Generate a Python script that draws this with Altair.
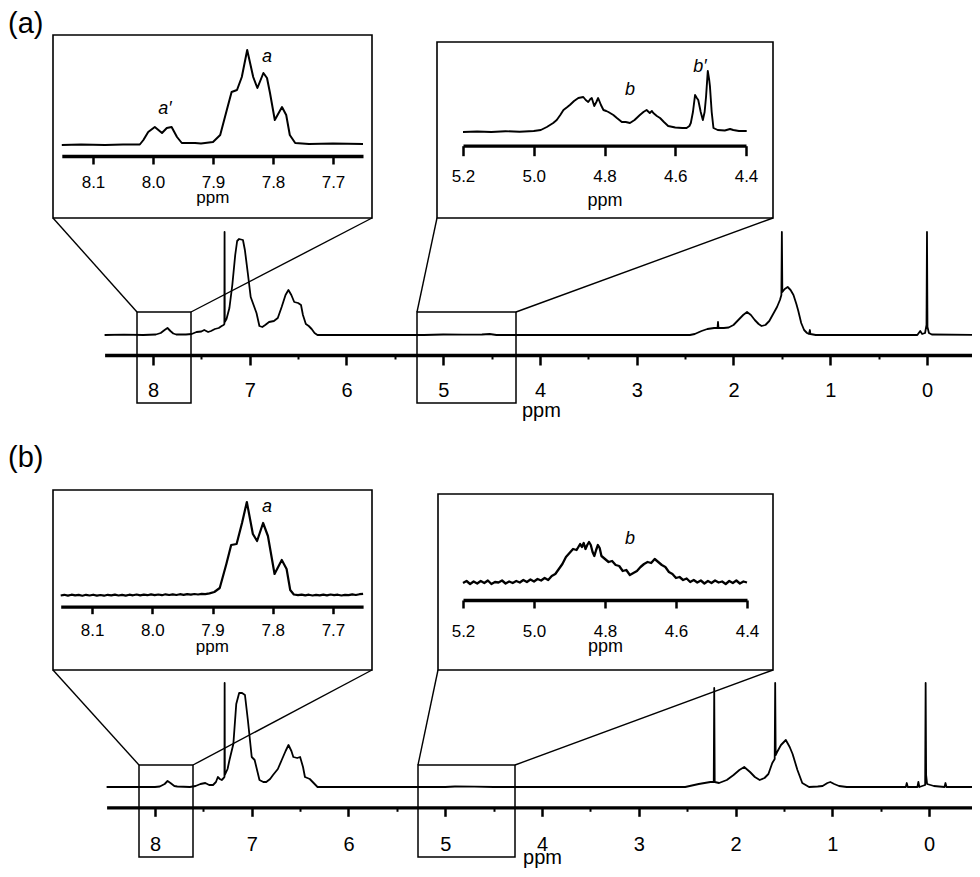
import altair as alt
import pandas as pd

OFF = 8          # page margin (page px -> view px)
W, H = 964, 861
FONT = "Liberation Sans"

# ---------------- data (ppm, intensity) ----------------
A_MAIN = [(8.50,0),(8.30,0.3),(8.10,0),(7.97,0.5),(7.92,2),(7.88,5),(7.85,7),(7.82,4),(7.79,1.5),
          (7.76,0.5),(7.66,0.5),(7.60,1),(7.55,3),(7.50,3.5),(7.47,5),(7.43,3),(7.40,4),(7.36,6),
          (7.32,7),(7.29,9),(7.27,10),(7.262,11),(7.260,103),(7.258,13),(7.24,16),(7.21,27),(7.18,50),
          (7.15,80),(7.13,94),(7.11,96),(7.07,95),(7.05,85),(7.02,62),(6.99,38),(6.96,30),(6.93,22),
          (6.90,9),(6.87,8),(6.84,10),(6.80,13),(6.75,14),(6.71,17),(6.67,28),(6.63,40),(6.60,45),
          (6.57,40),(6.54,33),(6.50,32),(6.47,30),(6.45,20),(6.42,11),(6.39,9),(6.36,6),(6.33,2),
          (6.30,0),(5.60,0),(5.20,0),(5.00,0.5),(4.80,0.3),(4.60,0.5),(4.52,1),(4.45,0),(3.00,0),
          (2.45,0),(2.40,1),(2.33,4),(2.27,6),(2.20,7),(2.165,7),(2.16,13),(2.155,7),(2.10,7),
          (2.05,7.5),(2.00,10),(1.95,15),(1.90,20),(1.86,23),(1.82,20),(1.78,15),(1.74,11),(1.71,9),
          (1.67,10),(1.63,14),(1.59,21),(1.55,28),(1.52,35),(1.505,40),(1.50,103),(1.495,43),
          (1.47,46),(1.44,48),(1.41,45),(1.38,40),(1.35,31),(1.33,24),(1.30,12),(1.27,5),(1.24,2),
          (1.22,1),(1.21,5),(1.205,1),(1.15,0),(0.50,0),(0.10,0),(0.07,4),(0.05,1),(0.02,2),
          (0.005,10),(0.0,103),(-0.005,8),(-0.02,2),(-0.05,0.5),(-0.52,0)]

B_MAIN = [(8.50,0),(8.00,0),(7.95,0.5),(7.90,3),(7.87,6),(7.84,4),(7.80,1),(7.77,0.5),(7.64,0),
          (7.58,1),(7.53,3),(7.48,4),(7.44,2),(7.40,2),(7.37,5),(7.35,10),(7.33,8),(7.31,7),
          (7.29,9),(7.282,10),(7.28,104),(7.278,12),(7.25,18),(7.23,27),(7.19,43),(7.16,83),
          (7.13,94),(7.10,94),(7.07,92),(7.04,67),(7.00,30),(6.97,27),(6.94,15),(6.92,7),(6.88,5),
          (6.85,5),(6.81,8),(6.78,12),(6.73,18),(6.69,27),(6.65,36),(6.62,42),(6.59,36),(6.57,30),
          (6.53,29),(6.50,30),(6.47,20),(6.45,10),(6.40,8),(6.36,4),(6.32,0),(5.00,0),(4.90,0.5),
          (4.70,0.3),(4.50,0),(2.52,0),(2.38,3),(2.26,5),(2.225,5),(2.22,99),(2.215,5),(2.17,4),
          (2.09,7),(2.02,12),(1.96,17),(1.91,20),(1.85,15),(1.80,10),(1.75,7),(1.70,9),(1.66,13),
          (1.62,24),(1.595,28),(1.59,104),(1.585,32),(1.57,35),(1.53,42),(1.48,47),(1.44,40),
          (1.41,33),(1.36,17),(1.31,4),(1.24,0),(1.15,0.5),(1.10,1),(1.05,4),(1.02,5),(0.98,3),
          (0.93,1),(0.85,0),(0.24,0),(0.23,4),(0.22,0),(0.12,0),(0.11,5),(0.10,0),(0.04,2),
          (0.035,104),(0.03,12),(0.02,3),(-0.05,1),(-0.16,0),(-0.17,4),(-0.18,0),(-0.45,0)]

A_INSET1 = [(8.152,0),(8.12,0.5),(8.08,0),(8.05,0.5),(8.022,0.5),(8.016,5),(8.008,13),(7.997,18),
            (7.991,15),(7.985,12),(7.977,17),(7.969,18),(7.960,8),(7.952,2),(7.930,2),(7.920,1.5),
            (7.900,3),(7.888,10),(7.877,35),(7.869,53),(7.860,55),(7.852,68),(7.843,95),(7.833,68),
            (7.826,57),(7.816,72),(7.810,67),(7.805,52),(7.797,25),(7.785,38),(7.778,30),(7.772,10),
            (7.763,2),(7.740,1),(7.700,1.5),(7.650,1)]

B_INSET1 = [(8.152,0.5),(8.146,1.2),(8.140,0.4),(8.134,1.3),(8.128,0.6),(8.122,1.1),(8.116,0.3),
            (8.110,1.2),(8.104,0.5),(8.098,1.3),(8.092,0.4),(8.086,1.0),(8.080,0.3),(8.074,1.2),
            (8.068,0.6),(8.062,1.4),(8.056,0.5),(8.050,1.1),(8.044,0.4),(8.038,1.3),(8.032,0.7),
            (8.026,1.5),(8.020,0.6),(8.014,1.3),(8.008,0.8),(8.002,1.6),(7.996,0.9),(7.990,1.5),
            (7.984,0.8),(7.978,1.7),(7.972,1.0),(7.966,1.6),(7.960,1.0),(7.954,1.8),(7.948,1.1),
            (7.942,1.9),(7.936,1.3),(7.930,2.0),(7.924,1.5),(7.918,2.2),(7.912,1.8),(7.905,2.6),
            (7.897,4),(7.888,8),(7.877,32),(7.869,51),(7.860,52),(7.851,73),(7.843,94),(7.833,62),
            (7.826,55),(7.816,73),(7.808,60),(7.797,22),(7.785,36),(7.777,27),(7.771,6),(7.765,1.5),
            (7.758,0.8),(7.752,1.4),(7.746,0.6),(7.740,1.3),(7.734,0.5),(7.728,1.2),(7.722,0.7),
            (7.716,1.4),(7.710,0.6),(7.704,1.5),(7.698,0.8),(7.692,1.3),(7.686,0.5),(7.680,1.2),
            (7.674,0.9),(7.668,1.6),(7.662,1.0),(7.656,1.8),(7.650,2.2)]

A_INSET2 = [(5.20,0),(5.16,0.5),(5.12,0),(5.08,0.8),(5.04,0.3),(5.00,1),(4.98,2),(4.963,5),
            (4.945,9),(4.935,12),(4.925,17),(4.916,22),(4.905,25),(4.898,27),(4.886,31),(4.874,34),
            (4.860,35),(4.853,32),(4.846,30),(4.840,33),(4.836,34),(4.829,26),(4.823,30),(4.818,34),
            (4.810,27),(4.803,22),(4.795,21),(4.789,20),(4.775,17),(4.765,14),(4.751,10),(4.740,10),
            (4.728,9),(4.715,12),(4.700,17),(4.690,20),(4.681,22),(4.672,19),(4.666,21),(4.662,19),
            (4.652,16),(4.643,14),(4.632,10),(4.620,6),(4.600,4.5),(4.580,4),(4.568,4),(4.560,6),
            (4.556,9),(4.550,20),(4.544,37),(4.539,34),(4.535,32),(4.528,20),(4.522,12),(4.517,20),
            (4.513,35),(4.508,61),(4.504,52),(4.502,46),(4.497,20),(4.492,4),(4.480,2),(4.460,1.5),
            (4.445,3),(4.436,2),(4.420,1),(4.398,1)]

B_INSET2 = [(5.20,0),(5.19,2),(5.18,-1),(5.17,1.5),(5.16,-0.5),(5.15,2),(5.14,0),(5.13,2.5),
            (5.12,-1),(5.11,1),(5.10,0.5),(5.09,2.5),(5.08,-0.5),(5.07,1.5),(5.06,0),(5.05,2),
            (5.04,0.5),(5.03,3),(5.02,1),(5.01,3.5),(5.00,1.5),(4.99,4),(4.98,2.5),(4.97,5),(4.96,3),
            (4.95,7),(4.94,9),(4.93,14),(4.92,19),(4.91,26),(4.90,30),(4.89,34),(4.88,33),(4.87,39),
            (4.865,36),(4.86,40),(4.855,34),(4.85,38),(4.845,41),(4.84,38),(4.835,31),(4.83,27),
            (4.825,33),(4.82,38),(4.815,35),(4.81,27),(4.80,24),(4.79,21),(4.78,22),(4.77,18),
            (4.76,17),(4.75,12),(4.74,13),(4.73,8),(4.72,10),(4.71,12),(4.70,16),(4.69,19),(4.68,21),
            (4.67,20),(4.66,24),(4.65,21),(4.64,18),(4.63,16),(4.62,11),(4.61,9),(4.60,5),(4.59,6),
            (4.58,3),(4.57,4.5),(4.56,1),(4.55,3),(4.54,0.5),(4.53,2.5),(4.52,-0.5),(4.51,2),
            (4.50,0),(4.49,2.5),(4.48,0.5),(4.47,1.5),(4.46,-1),(4.45,2),(4.44,0),(4.43,2.5),
            (4.42,-0.5),(4.41,1.5),(4.40,0.5)]

MAIN_TICKS = [8, 7, 6, 5, 4, 3, 2, 1, 0]
MINOR_TICKS = [7.5, 6.5, 5.5, 4.5, 3.5, 2.5, 1.5, 0.5]
INSET1_TICKS = [8.1, 8.0, 7.9, 7.8, 7.7]
INSET2_TICKS = [5.2, 5.0, 4.8, 4.6, 4.4]
INSET1_DOM = (8.152, 7.65)
INSET2_DOM = (5.2, 4.4)

# ---------------- layout (page pixels) ----------------
PANELS = [
    dict(label="(a)", label_y=33,
         main=A_MAIN, main_dom=(8.5, -0.52), main_rng=(104.6, 977.3), main_base=335, main_axis=355,
         main_tick=10, main_lpad=15.8, main_ty=61.5,
         i1=A_INSET1, i1_rng=(61.8, 363.0), i1_base=145, i1_axis=156, i1_tick=8, i1_lpad=10.4, i1_ty=46.5,
         i2=A_INSET2, i2_rng=(463, 746), i2_base=132, i2_axis=145.7, i2_tick=10, i2_lpad=12.3, i2_ty=59.5,
         i1_sw=2.0, i2_sw=1.9,
         frames=[(53, 35, 372, 218), (437, 42, 773, 218)],
         boxes=[(137, 312, 191, 403), (417, 312, 516, 403)],
         links=[(53, 218, 137, 312), (372, 218, 191, 312), (437, 218, 417, 312), (773, 218, 516, 312)],
         tags=[("a", 267, 61.7), ("a\u2032", 165, 114.4), ("b", 630, 95), ("b\u2032", 700, 72)]),
    dict(label="(b)", label_y=467,
         main=B_MAIN, main_dom=(8.5, -0.5), main_rng=(106.6, 977.4), main_base=787, main_axis=807.3,
         main_tick=9, main_lpad=18, main_ty=56.5,
         i1=B_INSET1, i1_rng=(60.7, 363.1), i1_base=596, i1_axis=606.7, i1_tick=7, i1_lpad=9, i1_ty=44.5,
         i2=B_INSET2, i2_rng=(463, 747), i2_base=583, i2_axis=600, i2_tick=8, i2_lpad=15.7, i2_ty=51,
         i1_sw=2.2, i2_sw=2.3,
         frames=[(53, 490, 372, 670), (438, 494, 773, 670)],
         boxes=[(139, 765, 193, 857), (418, 765, 515, 857)],
         links=[(53, 670, 139, 765), (372, 670, 193, 765), (438, 670, 418, 765), (773, 670, 515, 765)],
         tags=[("a", 267, 511.7), ("b", 630, 544)]),
]


def spectrum(pts, xdom, xrng, base, axis_y, ticks, fmt, tsize, lpad, lfs, ty, tfs, sw):
    df = pd.DataFrame(pts, columns=["ppm", "h"])
    df["i"] = range(len(df))
    return alt.Chart(df).mark_line(color="black", strokeWidth=sw, strokeJoin="round").encode(
        x=alt.X("ppm:Q",
                scale=alt.Scale(domain=list(xdom), range=[xrng[0] - OFF, xrng[1] - OFF],
                                nice=False, zero=False),
                axis=alt.Axis(orient="bottom", offset=(axis_y - OFF) - H, values=ticks, format=fmt,
                              tickSize=tsize, tickWidth=2.5, domainWidth=3.3, labelPadding=lpad,
                              labelFontSize=lfs, labelFlush=False, labelOverlap=False,
                              title="ppm", titleFontSize=tfs, titleFontWeight="normal",
                              titleY=ty, titleBaseline="alphabetic", grid=False)),
        y=alt.Y("h:Q", scale=alt.Scale(domain=[0, 100], range=[base - OFF, base - 100 - OFF],
                                       nice=False, zero=False), axis=None),
        order="i:Q",
    )


def px(col):
    return alt.X(col, scale=None)


def py(col):
    return alt.Y(col, scale=None)


layers = []
for P in PANELS:
    layers.append(spectrum(P["main"], P["main_dom"], P["main_rng"], P["main_base"], P["main_axis"],
                           MAIN_TICKS, "d", P["main_tick"], P["main_lpad"], 20, P["main_ty"], 20, 1.8))
    # minor ticks of the main axis
    mdf = pd.DataFrame({"ppm": MINOR_TICKS})
    layers.append(alt.Chart(mdf).mark_point(opacity=0).encode(
        x=alt.X("ppm:Q",
                scale=alt.Scale(domain=list(P["main_dom"]),
                                range=[P["main_rng"][0] - OFF, P["main_rng"][1] - OFF],
                                nice=False, zero=False),
                axis=alt.Axis(orient="bottom", offset=(P["main_axis"] - OFF) - H, values=MINOR_TICKS,
                              tickSize=4, tickWidth=2, labels=False, domain=False, title=None,
                              grid=False))))
    layers.append(spectrum(P["i1"], INSET1_DOM, P["i1_rng"], P["i1_base"], P["i1_axis"],
                           INSET1_TICKS, ".1f", P["i1_tick"], P["i1_lpad"], 17, P["i1_ty"], 17, P["i1_sw"]))
    layers.append(spectrum(P["i2"], INSET2_DOM, P["i2_rng"], P["i2_base"], P["i2_axis"],
                           INSET2_TICKS, ".1f", P["i2_tick"], P["i2_lpad"], 17, P["i2_ty"], 18, P["i2_sw"]))

    rects = pd.DataFrame([dict(x=a - OFF, y=b - OFF, x2=c - OFF, y2=d - OFF, w=1.6)
                          for (a, b, c, d) in P["frames"]] +
                         [dict(x=a - OFF, y=b - OFF, x2=c - OFF, y2=d - OFF, w=1.5)
                          for (a, b, c, d) in P["boxes"]])
    layers.append(alt.Chart(rects).mark_rect(fill="white", fillOpacity=0, stroke="black").encode(
        x=px("x:Q"), x2="x2:Q", y=py("y:Q"), y2="y2:Q",
        strokeWidth=alt.StrokeWidth("w:Q", scale=None)))

    links = pd.DataFrame([dict(x=a - OFF, y=b - OFF, x2=c - OFF, y2=d - OFF)
                          for (a, b, c, d) in P["links"]])
    layers.append(alt.Chart(links).mark_rule(color="black", strokeWidth=1.4).encode(
        x=px("x:Q"), x2="x2:Q", y=py("y:Q"), y2="y2:Q"))

    tags = pd.DataFrame([dict(t=t, x=x - OFF, y=y - OFF) for (t, x, y) in P["tags"]])
    layers.append(alt.Chart(tags).mark_text(font=FONT, fontSize=18, fontStyle="italic",
                                            align="center", baseline="alphabetic",
                                            color="black").encode(
        x=px("x:Q"), y=py("y:Q"), text="t:N"))

    lab = pd.DataFrame([dict(t=P["label"], x=0, y=P["label_y"] - OFF)])
    layers.append(alt.Chart(lab).mark_text(font=FONT, fontSize=29, align="left",
                                           baseline="alphabetic", color="black").encode(
        x=px("x:Q"), y=py("y:Q"), text="t:N"))

chart = alt.layer(*layers).resolve_scale(x="independent", y="independent").properties(
    width=W, height=H, autosize=alt.AutoSizeParams(type="none"), padding=0, background="white"
).configure_view(strokeWidth=0).configure_axis(
    labelFont=FONT, titleFont=FONT, labelColor="black", titleColor="black",
    domainColor="black", tickColor="black")

chart.save("out.html", embed_options={"renderer": "svg", "actions": False})
